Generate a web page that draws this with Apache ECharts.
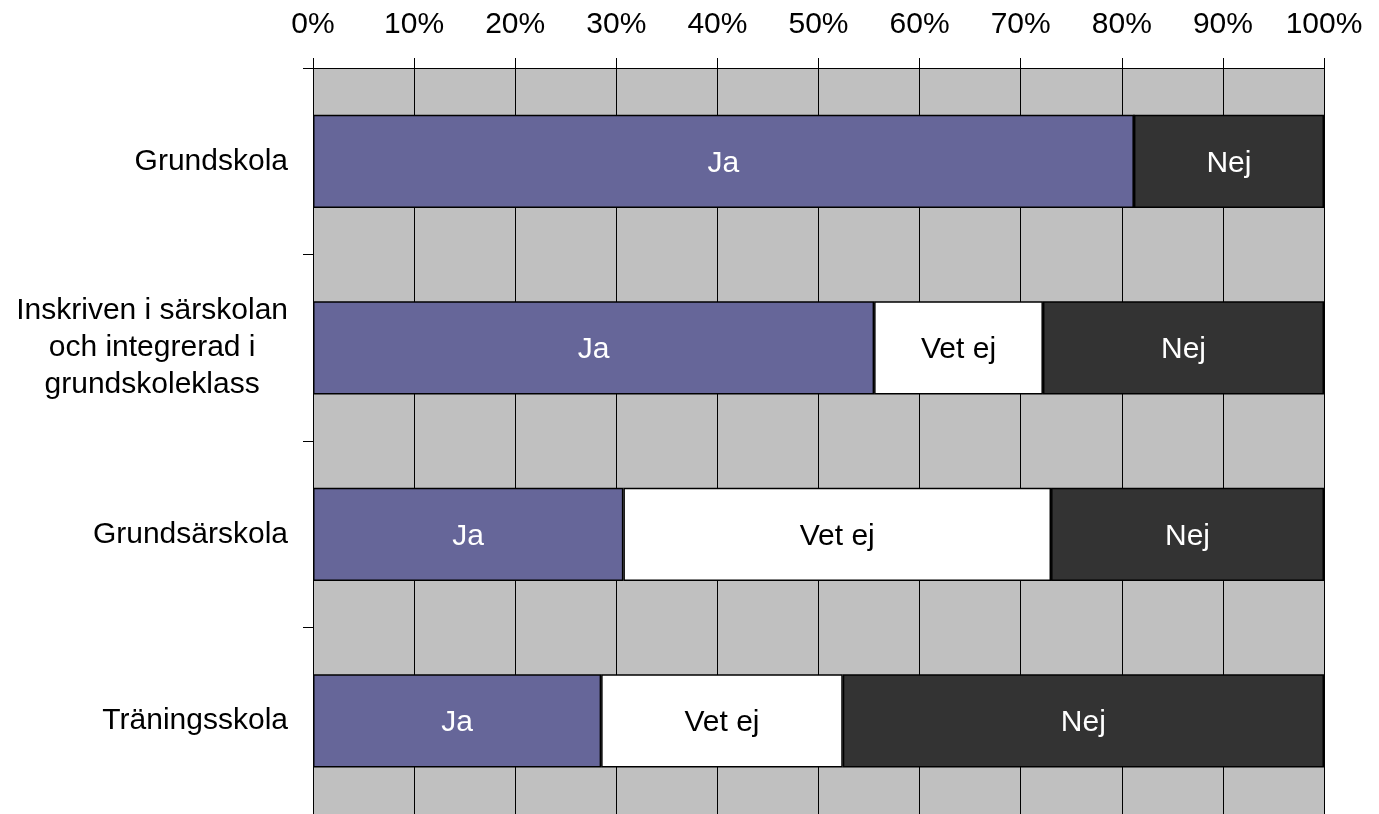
<!DOCTYPE html>
<html>
<head>
<meta charset="utf-8">
<script src="https://cdn.jsdelivr.net/npm/echarts@6/dist/echarts.min.js"></script>
<style>html,body{margin:0;padding:0;background:#fff}#c{width:1379px;height:814px}</style>
</head>
<body>
<div id="c"></div>
<script>
const categories = ['Grundskola', 'Inskriven i särskolan\noch integrerad i\ngrundskoleklass', 'Grundsärskola', 'Träningsskola'];
const seriesNames = ['Ja', 'Vet ej', 'Nej'];
const jaValues = [81.2, 55.5, 30.7, 28.5];
const vetEjValues = [0, 16.7, 42.3, 23.9];
const nejValues = [18.8, 27.8, 27.0, 47.6];
const tickLabels = ['0%','10%','20%','30%','40%','50%','60%','70%','80%','90%','100%'];

const FONT = '"Liberation Sans", Arial, sans-serif';
const FS = 30;
const colors = ['#666699', '#FFFFFF', '#333333'];
const labelColors = ['#FFFFFF', '#000000', '#FFFFFF'];
const values = [jaValues, vetEjValues, nejValues];

const chart = echarts.init(document.getElementById('c'), null, {renderer: 'canvas'});
chart.setOption({
  animation: false,
  grid: {left: 313, right: 55, top: 68, bottom: -2, show: true, backgroundColor: '#C0C0C0', borderWidth: 0},
  xAxis: {
    type: 'value', position: 'top', min: 0, max: 100, interval: 10,
    axisLine: {show: true, lineStyle: {color: '#000', width: 1}},
    axisTick: {show: true, length: 10, lineStyle: {color: '#000'}},
    axisLabel: {fontSize: FS, color: '#000', fontFamily: FONT, margin: 28,
      formatter: (v) => tickLabels[Math.round(v / 10)]},
    splitLine: {show: true, lineStyle: {color: '#000', width: 1}}
  },
  yAxis: {
    type: 'category', inverse: true, data: categories,
    axisLine: {show: true, lineStyle: {color: '#000', width: 1}},
    axisTick: {show: true, length: 10, lineStyle: {color: '#000'}},
    axisLabel: {fontSize: FS, color: '#000', fontFamily: FONT, margin: 25, lineHeight: 37,
      formatter: (v) => '{c|' + v + '}',
      rich: {c: {fontSize: FS, color: '#000', fontFamily: FONT, lineHeight: 37, align: 'center'}}
    },
    splitLine: {show: false}
  },
  series: seriesNames.map((name, i) => ({
    name: name, type: 'bar', stack: 'total', barWidth: '50%',
    data: values[i],
    itemStyle: {color: colors[i], borderColor: '#000', borderWidth: 1.5},
    label: {show: true, position: 'inside', fontSize: FS, fontFamily: FONT, color: labelColors[i],
      offset: [0, 2],
      formatter: (p) => p.value > 0 ? name : ''}
  }))
});
</script>
</body>
</html>
